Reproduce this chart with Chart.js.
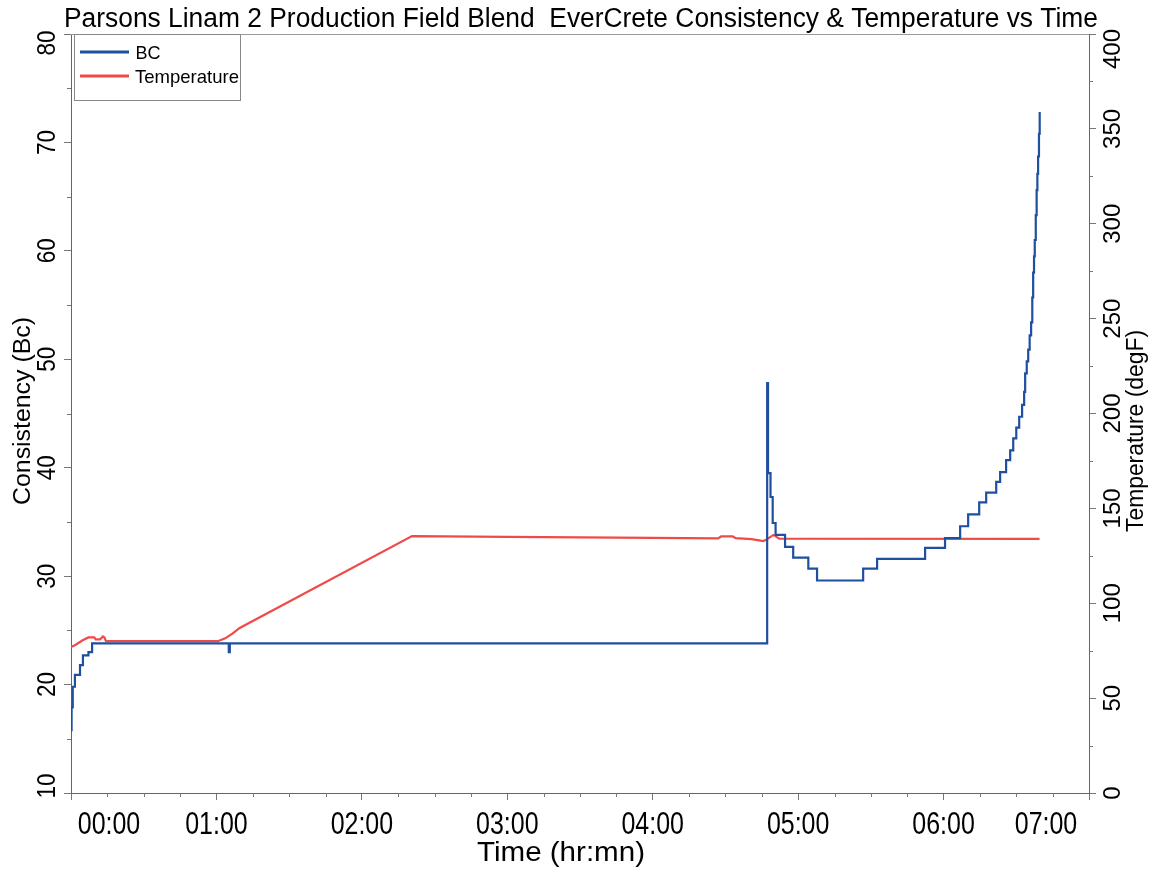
<!DOCTYPE html>
<html>
<head>
<meta charset="utf-8">
<title>EverCrete Consistency & Temperature vs Time</title>
<script src="https://cdn.jsdelivr.net/npm/chart.js@4.4.1/dist/chart.umd.min.js"></script>
<style>
  body { margin: 0; background: #fff; }
  #wrap { width: 1160px; height: 871px; }
</style>
</head>
<body>
<div id="wrap"><canvas id="myChart" width="1160" height="871"></canvas></div>
<script>
// consistency (Bc), time in hours, step changes
var bcTimes = [0, 0.004, 0.012, 0.027, 0.062, 0.082, 0.12, 0.145, 1.085, 1.092,
    4.787, 4.793, 4.81, 4.825, 4.845, 4.91, 4.966, 5.07, 5.13, 5.447, 5.543,
    5.873, 6.01, 6.114, 6.169, 6.245, 6.293, 6.362, 6.389, 6.43, 6.458, 6.479,
    6.5, 6.52, 6.54, 6.554, 6.561, 6.572, 6.582, 6.592, 6.602, 6.61, 6.616, 6.622,
    6.627, 6.634, 6.64, 6.645, 6.65, 6.656, 6.661];
var bcValues = [15.8, 17.9, 19.8, 20.9, 21.8, 22.7, 23.0, 23.8, 23.0, 23.8,
    47.8, 39.5, 37.3, 34.9, 33.8, 32.7, 31.7, 30.7, 29.6, 30.7, 31.6,
    32.6, 33.5, 34.6, 35.7, 36.8, 37.7, 38.7, 39.6, 40.7, 41.6, 42.7,
    43.7, 44.7, 45.8, 47.0, 48.7, 49.8, 50.9, 52.2, 53.4, 55.7, 58.0, 59.5,
    61.0, 63.3, 65.6, 67.1, 68.7, 70.8, 72.8];

// temperature (degF)
var tempTimes = [0, 0.03, 0.08, 0.12, 0.16, 0.17, 0.2, 0.22, 0.23, 0.24, 1.01, 1.06, 1.11, 1.16,
    2.345, 3.0, 4.0, 4.45, 4.47, 4.55, 4.57, 4.68, 4.76, 4.78, 4.83, 4.87, 6.66];
var tempValues = [77, 78, 80.5, 82, 82, 81, 81, 82.5, 82, 80, 80, 81.5, 84, 87,
    135.4, 135, 134.5, 134.2, 135.2, 135.2, 134.3, 133.8, 132.8, 133.5, 136, 134, 133.9];

var timeLabels = ['00:00', '01:00', '02:00', '03:00', '04:00', '05:00', '06:00', '07:00'];
var bcTicks = [10, 20, 30, 40, 50, 60, 70, 80];
var tempTicks = [0, 50, 100, 150, 200, 250, 300, 350, 400];

var titleText = 'Parsons Linam 2 Production Field Blend  EverCrete Consistency & Temperature vs Time';

var FONT = '"Liberation Sans", Arial, sans-serif';

function toPoints(xs, ys) {
    var pts = [];
    for (var i = 0; i < xs.length; i++) {
        pts.push({x: xs[i], y: ys[i]});
    }
    return pts;
}

// text helper: width > 0 fits the text to that width, otherwise sx squeezes it
function drawText(ctx, str, x, y, size, width, sx, rot, baseline) {
    ctx.save();
    ctx.font = size + 'px ' + FONT;
    ctx.translate(x, y);
    ctx.rotate(rot);
    var w = ctx.measureText(str).width;
    var k = width > 0 ? width / w : sx;
    ctx.scale(k, 1);
    ctx.textAlign = 'center';
    ctx.textBaseline = baseline;
    ctx.fillStyle = '#000';
    ctx.fillText(str, 0, 0);
    ctx.restore();
}

var decorPlugin = {
    id: 'decor',
    beforeDatasetsDraw: function(chart) {
        var ctx = chart.ctx;
        var a = chart.chartArea;
        ctx.save();
        ctx.strokeStyle = '#999';
        ctx.lineWidth = 1;
        ctx.beginPath();
        ctx.moveTo(a.left, a.top + 0.5);
        ctx.lineTo(a.right, a.top + 0.5);
        ctx.stroke();

        // minor ticks
        ctx.strokeStyle = '#777';
        var xs = chart.scales.x, yl = chart.scales.y, yr = chart.scales.y1;
        ctx.beginPath();
        for (var v = 15; v < 80; v += 10) {
            var py = Math.round(yl.getPixelForValue(v)) + 0.5;
            ctx.moveTo(a.left - 4, py); ctx.lineTo(a.left, py);
        }
        for (var t = 25; t < 400; t += 50) {
            var py2 = Math.round(yr.getPixelForValue(t)) + 0.5;
            ctx.moveTo(a.right, py2); ctx.lineTo(a.right + 4, py2);
        }
        for (var h = 0.25; h < 7; h += 0.25) {
            if (h % 1 === 0) continue;
            var px = Math.round(xs.getPixelForValue(h)) + 0.5;
            ctx.moveTo(px, a.bottom); ctx.lineTo(px, a.bottom + 4);
        }
        ctx.stroke();
        ctx.restore();
    },
    afterDraw: function(chart) {
        var ctx = chart.ctx;
        var a = chart.chartArea;
        var xs = chart.scales.x, yl = chart.scales.y, yr = chart.scales.y1;

        drawText(ctx, titleText, 581, 27, 27, 1034, 1, 0, 'alphabetic');

        // x tick labels
        for (var i = 0; i < timeLabels.length; i++) {
            var cx = xs.getPixelForValue(i);
            if (i === 0) cx = 109;
            if (i === timeLabels.length - 1) cx = 1046;
            drawText(ctx, timeLabels[i], cx, 834, 32, 0, 0.78, 0, 'alphabetic');
        }
        drawText(ctx, 'Time (hr:mn)', 561, 861, 28, 168, 1, 0, 'alphabetic');

        // left ticks
        for (var j = 0; j < bcTicks.length; j++) {
            var cy = yl.getPixelForValue(bcTicks[j]);
            cy = Math.min(Math.max(cy, a.top + 9), a.bottom - 7);
            drawText(ctx, String(bcTicks[j]), 48, cy, 25, 0, 0.9, -Math.PI / 2, 'middle');
        }
        drawText(ctx, 'Consistency (Bc)', 24, 411, 23, 188, 1, -Math.PI / 2, 'middle');

        // right ticks
        for (var k = 0; k < tempTicks.length; k++) {
            var ry = yr.getPixelForValue(tempTicks[k]);
            ry = Math.max(ry, a.top + 15);
            drawText(ctx, String(tempTicks[k]), 1113, ry, 24, 0, 1, -Math.PI / 2, 'middle');
        }
        drawText(ctx, 'Temperature (degF)', 1137, 431, 23, 202, 1, -Math.PI / 2, 'middle');

        // legend box
        ctx.save();
        ctx.fillStyle = '#fff';
        ctx.fillRect(74, 34, 166, 66);
        ctx.strokeStyle = '#888';
        ctx.lineWidth = 1;
        ctx.strokeRect(74.5, 34.5, 166, 66);
        var items = chart.data.datasets;
        var ly = [52, 76];
        for (var n = 0; n < items.length; n++) {
            ctx.strokeStyle = items[n].borderColor;
            ctx.lineWidth = 3;
            ctx.beginPath();
            ctx.moveTo(80, ly[n]);
            ctx.lineTo(129, ly[n]);
            ctx.stroke();
        }
        ctx.restore();
        drawText(ctx, items[0].label, 148, 59, 19, 0, 0.95, 0, 'alphabetic');
        drawText(ctx, items[1].label, 187, 83, 19, 104, 1, 0, 'alphabetic');
    }
};

var ctx = document.getElementById('myChart').getContext('2d');
var chart = new Chart(ctx, {
    type: 'line',
    data: {
        datasets: [{
            label: 'BC',
            data: toPoints(bcTimes, bcValues),
            borderColor: '#1f4f9f',
            borderWidth: 2.2,
            stepped: true,
            pointRadius: 0,
            fill: false,
            yAxisID: 'y'
        }, {
            label: 'Temperature',
            data: toPoints(tempTimes, tempValues),
            borderColor: '#f04a48',
            borderWidth: 2.2,
            pointRadius: 0,
            fill: false,
            tension: 0,
            yAxisID: 'y1'
        }]
    },
    options: {
        responsive: false,
        animation: false,
        devicePixelRatio: 1,
        layout: { padding: { top: 34, left: 0, right: 0, bottom: 0 } },
        plugins: {
            legend: { display: false },
            title: { display: false },
            tooltip: { enabled: false }
        },
        scales: {
            x: {
                type: 'linear',
                min: 0,
                max: 7,
                ticks: { display: false, stepSize: 1 },
                grid: { drawOnChartArea: false, tickLength: 7, color: '#777' },
                border: { display: true, color: '#666' },
                afterFit: function(s) { s.height = 78; }
            },
            y: {
                position: 'left',
                min: 10,
                max: 80,
                ticks: { display: false, stepSize: 10 },
                grid: { drawOnChartArea: false, tickLength: 7, color: '#777' },
                border: { display: true, color: '#666' },
                afterFit: function(s) { s.width = 71; }
            },
            y1: {
                position: 'right',
                min: 0,
                max: 400,
                ticks: { display: false, stepSize: 50 },
                grid: { drawOnChartArea: false, tickLength: 7, color: '#777' },
                border: { display: true, color: '#666' },
                afterFit: function(s) { s.width = 71; }
            }
        }
    },
    plugins: [decorPlugin]
});
</script>
</body>
</html>
